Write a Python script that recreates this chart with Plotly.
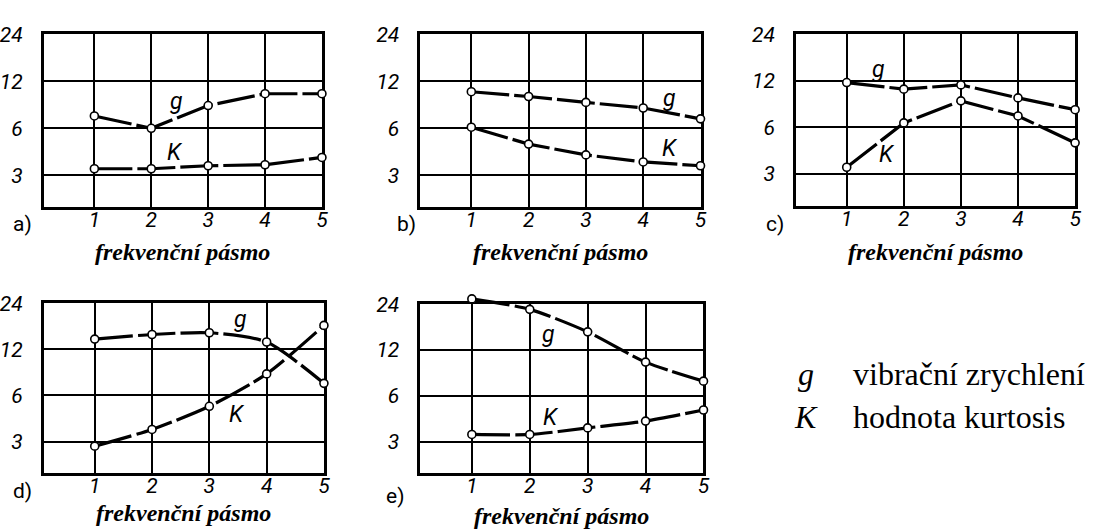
import plotly.graph_objects as go

# frequency bands on the horizontal axis
bands = [1, 2, 3, 4, 5]
y_ticks = [3, 6, 12, 24]

# vibration acceleration (g) and kurtosis (K) per band, panels a)–e)
g_a = [7.2, 6.0, 8.4, 10.0, 10.0]
k_a = [3.3, 3.3, 3.45, 3.5, 3.9]
g_b = [10.3, 9.6, 8.8, 8.1, 6.9]
k_b = [6.1, 4.75, 4.05, 3.65, 3.45]
g_c = [11.7, 10.6, 11.3, 9.3, 7.8]
k_c = [3.3, 6.4, 8.9, 7.1, 4.75]
g_d = [14.0, 15.0, 15.4, 13.4, 7.2]
k_d = [2.8, 3.6, 5.1, 8.3, 17.2]
g_e = [26.0, 22.2, 15.8, 10.0, 7.5]
k_e = [3.35, 3.35, 3.7, 4.1, 4.85]

panel_letters = ["a)", "b)", "c)", "d)", "e)"]
axis_title = "frekvenční pásmo"
legend_rows = [("g", "vibrační zrychlení"), ("K", "hodnota kurtosis")]

W, H = 1098, 529
NARROW = "Roboto, Liberation Sans Narrow, DejaVu Sans Condensed, sans-serif"
SERIF = "Liberation Serif, Times New Roman, serif"


def px_x(v):
    return v / W


def px_y(v):
    return 1 - v / H


# panel boxes in pixels: left, right, top, bottom
boxes = [
    (43, 323, 23, 200),
    (422, 704, 23, 200),
    (800, 1081, 23, 198),
    (43, 325, 298, 472),
    (422, 707, 299, 472),
]
series = [(g_a, k_a), (g_b, k_b), (g_c, k_c), (g_d, k_d), (g_e, k_e)]
shapes_line = ["linear", "linear", "linear", "spline", "spline"]
HEADROOM = 16  # px above the frame for curves that run past the top value

# label positions (pixels): g label, K label, panel letter, axis-title centre y
g_pos = [(177, 92), (673, 88), (883, 59), (241, 315), (551, 330)]
k_pos = [(175, 144), (673, 140), (892, 146), (238, 412), (554, 415)]
letter_pos = [(22, 217), (408, 217), (779, 217), (22, 490), (397, 495)]
title_y = [246, 246, 246, 513, 516]

fig = go.Figure()
layout = {}
annotations = []

ymin_log = 0.2701
ymax_log = 1.3802
tick_font = dict(family=NARROW, size=21, color="black", style="italic")

extra = 6  # index for additional transparent axes
for i, (box, (g, k)) in enumerate(zip(boxes, series)):
    n = "" if i == 0 else str(i + 1)
    xa, ya = "x" + n, "y" + n
    l, r, t, b = box
    layout["xaxis" + n] = dict(
        domain=[px_x(l), px_x(r)], anchor=ya, range=[0.11, 5.0],
        tickvals=bands, ticktext=[str(v) for v in bands],
        showgrid=True, gridcolor="black", gridwidth=1.6,
        showline=True, linecolor="black", linewidth=2.6, mirror=True,
        zeroline=False, ticks="", ticklen=0, ticklabelstandoff=-8,
        tickfont=tick_font, layer="below traces", fixedrange=True,
    )
    layout["yaxis" + n] = dict(
        domain=[px_y(b), px_y(t)], anchor=xa, type="log",
        range=[ymin_log, ymax_log],
        tickvals=y_ticks, ticktext=[str(v) for v in y_ticks],
        showgrid=True, gridcolor="black", gridwidth=1.6,
        showline=True, linecolor="black", linewidth=2.6, mirror=True,
        zeroline=False, ticks="", ticklen=0, ticklabelstandoff=14,
        tickfont=tick_font, layer="below traces", fixedrange=True,
    )

    for vals in (g, k):
        txa, tya = xa, ya
        if max(vals) > y_ticks[-1]:
            # a curve that leaves the frame goes on a transparent pair of axes
            # with the same scale but a taller area, so the point stays visible
            m = str(extra)
            extra += 1
            top = t - HEADROOM
            span = (ymax_log - ymin_log) * (b - top) / (b - t)
            layout["xaxis" + m] = dict(
                domain=[px_x(l), px_x(r)], anchor="y" + m, range=[0.11, 5.0],
                visible=False, fixedrange=True,
            )
            layout["yaxis" + m] = dict(
                domain=[px_y(b), px_y(top)], anchor="x" + m, type="log",
                range=[ymin_log, ymin_log + span], visible=False, fixedrange=True,
            )
            txa, tya = "x" + m, "y" + m
        fig.add_trace(go.Scatter(
            x=bands, y=vals, xaxis=txa, yaxis=tya, mode="lines+markers",
            line=dict(color="black", width=3.2, dash="38px,5px",
                      shape=shapes_line[i], smoothing=0.7),
            marker=dict(symbol="circle", size=8, color="white",
                        line=dict(color="black", width=1.6)),
            cliponaxis=False, showlegend=False, hoverinfo="skip",
        ))

    for txt, (px, py) in (("g", g_pos[i]), ("K", k_pos[i])):
        annotations.append(dict(
            x=px_x(px), y=px_y(py), xref="paper", yref="paper",
            text=txt, showarrow=False, xanchor="center", yanchor="middle",
            font=dict(family=NARROW, size=23, color="black", style="italic"),
        ))
    lx, ly = letter_pos[i]
    annotations.append(dict(
        x=px_x(lx), y=px_y(ly), xref="paper", yref="paper",
        text=panel_letters[i], showarrow=False, xanchor="center", yanchor="middle",
        font=dict(family=NARROW, size=21, color="black"),
    ))
    annotations.append(dict(
        x=px_x((l + r) / 2), y=px_y(title_y[i]), xref="paper", yref="paper",
        text=axis_title, showarrow=False, xanchor="center", yanchor="middle",
        font=dict(family=SERIF, size=24, color="black", style="italic", weight="bold"),
    ))

# explanatory key for the two symbols
for row, (sym, desc) in enumerate(legend_rows):
    yy = 370 + row * 44
    annotations.append(dict(
        x=px_x(810), y=px_y(yy), xref="paper", yref="paper",
        text=sym, showarrow=False, xanchor="center", yanchor="middle",
        font=dict(family=SERIF, size=32, color="black", style="italic"),
    ))
    annotations.append(dict(
        x=px_x(855), y=px_y(yy), xref="paper", yref="paper",
        text=desc, showarrow=False, xanchor="left", yanchor="middle",
        font=dict(family=SERIF, size=32, color="black"),
    ))

fig.update_layout(
    width=W, height=H, margin=dict(l=0, r=0, t=0, b=0),
    paper_bgcolor="white", plot_bgcolor="rgba(0,0,0,0)",
    showlegend=False, annotations=annotations, **layout,
)

fig.write_html("out.html", config={"displayModeBar": False})
